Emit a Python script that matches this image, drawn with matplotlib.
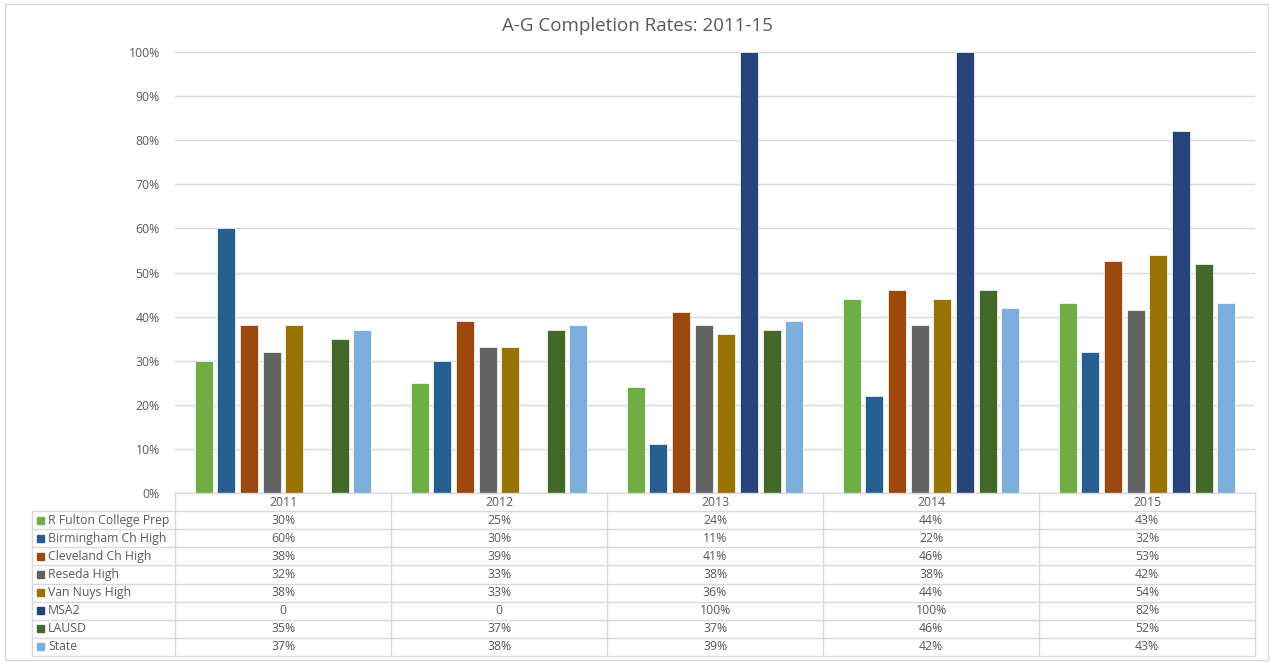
import matplotlib
matplotlib.use("Agg")
import matplotlib.pyplot as plt
from matplotlib.patches import Rectangle
import numpy as np

plt.rcParams['font.family'] = ['Open Sans', 'DejaVu Sans']

years = ["2011", "2012", "2013", "2014", "2015"]
series_names = ["R Fulton College Prep", "Birmingham Ch High", "Cleveland Ch High",
                "Reseda High", "Van Nuys High", "MSA2", "LAUSD", "State"]
r_fulton = [30, 25, 24, 44, 43]
birmingham = [60, 30, 11, 22, 32]
cleveland = [38, 39, 41, 46, 52.7]
reseda = [32, 33, 38, 38, 41.5]
van_nuys = [38, 33, 36, 44, 54]
msa2 = [0, 0, 100, 100, 82]
lausd = [35, 37, 37, 46, 52]
state = [37, 38, 39, 42, 43]
series_values = [r_fulton, birmingham, cleveland, reseda, van_nuys, msa2, lausd, state]
colors = ["#70AD47", "#255E91", "#9E480E", "#636363", "#997300", "#264478", "#43682B", "#7CAFDD"]
y_ticks = [0, 10, 20, 30, 40, 50, 60, 70, 80, 90, 100]

W, H = 1274, 662
fig = plt.figure(figsize=(W / 100, H / 100), dpi=100)
fig.patch.set_facecolor("white")

text_color = "#595959"
grid_color = "#D9D9D9"

# outer chart border
fig.add_artist(Rectangle((5 / W, 1 - 660 / H), (1268 - 5) / W, (660 - 4) / H,
                         transform=fig.transFigure, fill=False, edgecolor="#D9D9D9", lw=1))

px_left, px_right, px_top, px_bottom = 175, 1255, 52, 493
ax = fig.add_axes([px_left / W, 1 - px_bottom / H, (px_right - px_left) / W, (px_bottom - px_top) / H])
ax.set_xlim(0, len(years))
ax.set_ylim(0, 100)
for s in ax.spines.values():
    s.set_visible(False)
ax.set_yticks(y_ticks)
ax.set_yticklabels([f"{t}%" for t in y_ticks], color=text_color, fontsize=8.8)
ax.tick_params(axis="y", length=0, pad=11)
ax.set_xticks([])
ax.yaxis.grid(True, color=grid_color, lw=1)
ax.set_axisbelow(True)

n = len(series_names)
slot = 22.7 / 216
bw = 18 / 216
x = np.arange(len(years)) + 0.5
for j, (vals, c) in enumerate(zip(series_values, colors)):
    ax.bar(x + (j - (n - 1) / 2) * slot, vals, width=bw, color=c, edgecolor="white", lw=0.5, zorder=3)

fig.text(0.5, 1 - 26 / H, "A-G Completion Rates: 2011-15", color=text_color, fontsize=13.5,
         ha="center", va="center")

# data table
row_h = 18.1
tab_rows = n + 1
tax = fig.add_axes([px_left / W, 1 - (px_bottom + row_h * tab_rows) / H, (px_right - px_left) / W,
                    row_h * tab_rows / H])
tax.set_xlim(0, len(years))
tax.set_ylim(tab_rows, 0)
tax.axis("off")
hdr_left = -(px_left - 32) / 216
lc = "#D9D9D9"
tax.plot([0, len(years)], [0, 0], color=lc, lw=1, clip_on=False)
for r in range(1, tab_rows + 1):
    tax.plot([hdr_left, len(years)], [r, r], color=lc, lw=1, clip_on=False)
for k in range(len(years) + 1):
    tax.plot([k, k], [0, tab_rows], color=lc, lw=1, clip_on=False)
tax.plot([hdr_left, hdr_left], [1, tab_rows], color=lc, lw=1, clip_on=False)
for k, yr in enumerate(years):
    tax.text(k + 0.5, 0.5, yr, ha="center", va="center", color=text_color, fontsize=8.8)
sq = 7 / 216
for j, name in enumerate(series_names):
    yc = j + 1.5
    tax.add_patch(Rectangle((hdr_left + 5 / 216, yc - 0.2), sq, 0.4, color=colors[j], clip_on=False))
    tax.text(hdr_left + 16 / 216, yc, name, ha="left", va="center", color=text_color, fontsize=8.8,
             clip_on=False)
    for k, v in enumerate(series_values[j]):
        label = "0" if v == 0 else f"{v:.0f}%"
        tax.text(k + 0.5, yc, label, ha="center", va="center", color=text_color, fontsize=8.8)

fig.savefig("out.png", dpi=100, facecolor="white")
